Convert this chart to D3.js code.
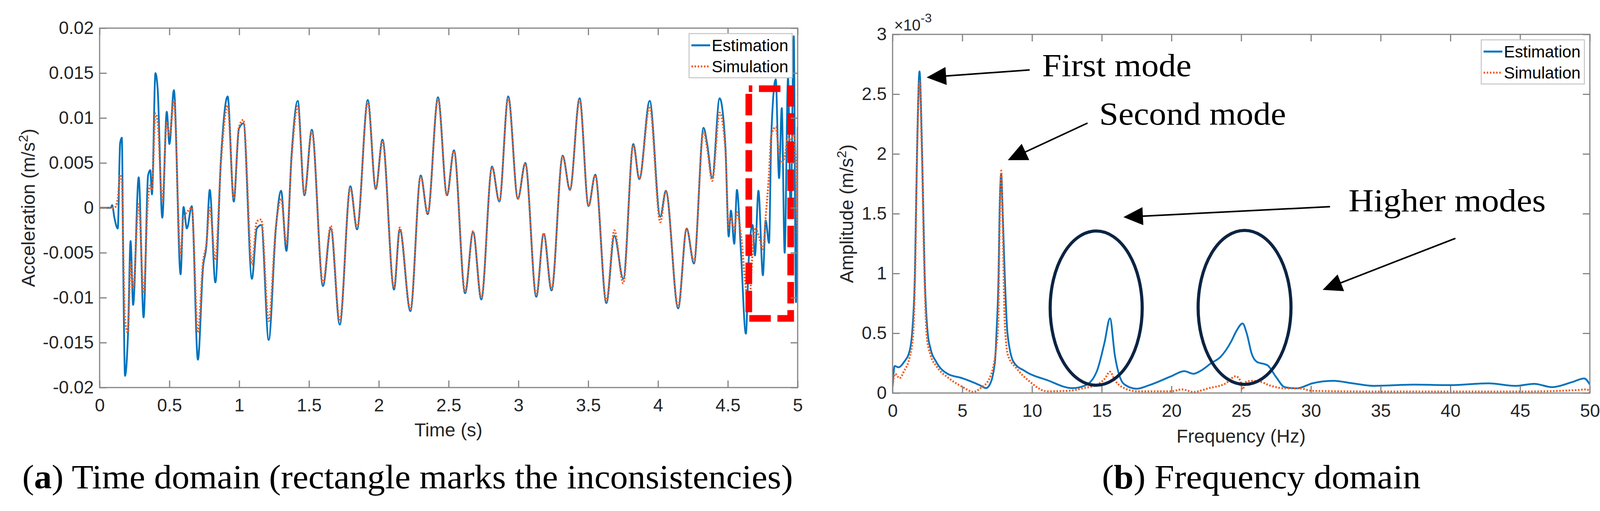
<!DOCTYPE html>
<html>
<head>
<meta charset="utf-8">
<script src="https://cdn.jsdelivr.net/npm/d3@7"></script>
<style>
body { margin: 0; background: #fff; }
</style>
</head>
<body>
<svg id="fig" width="4122" height="1308"></svg>
<script>

// ** Time domain: acceleration
var timeS = [
  0, 0.08, 0.09, 0.106, 0.13, 0.147, 0.159, 0.171, 0.182, 0.203,
  0.222, 0.24, 0.28, 0.315, 0.347, 0.363, 0.375, 0.40, 0.416, 0.449,
  0.481, 0.50, 0.532, 0.58, 0.601, 0.625, 0.66, 0.704, 0.741, 0.765,
  0.789, 0.829, 0.869, 0.917, 0.961, 0.998, 1.03, 1.091, 1.126, 1.158,
  1.211, 1.263, 1.30, 1.338, 1.375, 1.419, 1.467, 1.52, 1.60, 1.656,
  1.72, 1.796, 1.844, 1.921, 1.978, 2.026, 2.109, 2.15, 2.226, 2.30,
  2.35, 2.424, 2.488, 2.538, 2.618, 2.675, 2.734, 2.811, 2.863, 2.927,
  2.996, 3.049, 3.128, 3.181, 3.237, 3.317, 3.369, 3.438, 3.502, 3.55,
  3.63, 3.687, 3.751, 3.823, 3.866, 3.94, 4.016, 4.056, 4.144, 4.205,
  4.257, 4.326, 4.353, 4.388, 4.441, 4.482, 4.506, 4.522, 4.546, 4.565,
  4.594, 4.629, 4.65, 4.677, 4.694, 4.719, 4.751, 4.771, 4.795, 4.811,
  4.843, 4.867, 4.886, 4.907, 4.931, 4.95, 4.972, 4.988, 5.0
];
var estAcc = [
  0, 0, 0.0003, -0.0011, -0.0023, 0.0072, 0.0078, -0.0089, -0.0187, -0.0142,
  -0.0037, -0.0108, 0.0034, -0.0122, 0.0036, 0.0042, 0.0015, 0.0150, 0.0132, -0.0011,
  0.0107, 0.0071, 0.0131, -0.0074, 0.0001, -0.0023, 0.0002, -0.0169, -0.0066, -0.0042,
  0.0020, -0.0083, 0.0054, 0.0124, 0.0007, 0.0088, 0.0094, -0.0079, -0.0023, -0.0019,
  -0.0147, -0.0022, 0.0019, -0.0048, 0.0059, 0.0119, 0.0014, 0.0087, -0.0087, -0.0023,
  -0.0130, 0.0024, -0.0024, 0.0120, 0.0021, 0.0076, -0.0091, -0.0024, -0.0115, 0.0036,
  -0.0007, 0.0123, 0.0014, 0.0064, -0.0095, -0.0027, -0.0102, 0.0046, 0.0007, 0.0124,
  0.0010, 0.0050, -0.0099, -0.0029, -0.0092, 0.0058, 0.0020, 0.0122, 0.0002, 0.0037,
  -0.0106, -0.0031, -0.0079, 0.0071, 0.0032, 0.0119, -0.0010, 0.0019, -0.0112, -0.0023,
  -0.0062, 0.0089, 0.0070, 0.0033, 0.0122, 0.0070, -0.0032, -0.0003, -0.0040, 0.0020,
  -0.0050, -0.0140, -0.0056, -0.0019, -0.0053, 0.0019, -0.0075, -0.0014, -0.0039, 0.0080,
  0.0143, 0.0033, 0.0111, -0.0050, 0.0145, -0.0009, 0.0191, -0.0105, 0.0090
];
var simAcc = [
  0, 0, 0, 0, 0.0010, 0.0037, 0.0030, -0.0060, -0.0125, -0.0139,
  -0.0060, -0.0090, 0.0004, -0.0095, 0.0010, 0.0025, 0.0020, 0.0105, 0.0095, 0.0007,
  0.0095, 0.0080, 0.0119, -0.0053, -0.0010, -0.0005, 0.0000, -0.0139, -0.0060, -0.0040,
  0.0000, -0.0058, 0.0050, 0.0114, 0.0010, 0.0090, 0.0098, -0.0063, -0.0015, -0.0013,
  -0.0126, -0.0020, 0.0010, -0.0040, 0.0055, 0.0113, 0.0016, 0.0085, -0.0084, -0.0020,
  -0.0126, 0.0022, -0.0022, 0.0117, 0.0021, 0.0074, -0.0089, -0.0022, -0.0113, 0.0035,
  -0.0006, 0.0121, 0.0014, 0.0063, -0.0093, -0.0026, -0.0100, 0.0045, 0.0007, 0.0122,
  0.0010, 0.0049, -0.0097, -0.0028, -0.0090, 0.0057, 0.0020, 0.0120, 0.0002, 0.0036,
  -0.0104, -0.0025, -0.0084, 0.0070, 0.0032, 0.0113, -0.0016, 0.0019, -0.0110, -0.0023,
  -0.0060, 0.0085, 0.0065, 0.0030, 0.0106, 0.0065, -0.0022, -0.0010, -0.0025, -0.0005,
  -0.0030, -0.0090, -0.0113, -0.0050, -0.0022, -0.0030, -0.0046, -0.0010, 0.0038, 0.0081,
  0.0090, 0.0060, 0.0050, 0.0057, 0.0079, 0.0075, 0.0083, 0.0040, -0.0029
];

// ** Frequency domain: amplitude in units of 1e-3 m/s^2, panel (b)
var estFreq = [0, 0.15, 0.42, 0.82, 1.23, 1.4, 1.6, 1.75, 1.93, 2.12, 2.3, 2.52, 2.73, 3.14, 3.94, 5.0,
  6.3, 6.7, 6.93, 7.34, 7.45, 7.6, 7.67, 7.79, 7.9, 8.04, 8.24, 8.68, 9.5, 11.1, 12.88, 13.8,
  14.65, 15.2, 15.59, 15.94, 16.6, 17.5, 18.35, 19.96, 20.92, 21.57, 22.05, 22.85, 23.5, 24.29,
  24.65, 25.1, 25.4, 25.76, 26.1, 26.9, 27.5, 28.12, 29.0, 30.1, 31.6, 33.0, 34.5, 37.4, 40.0,
  42.7, 44.7, 46.0, 47.3, 48.7, 49.6, 50.0];
var estAmp = [0.05, 0.226, 0.215, 0.259, 0.357, 0.50, 1.00, 2.00, 2.69, 2.00, 1.00, 0.50, 0.368, 0.259, 0.161, 0.124,
  0.063, 0.041, 0.063, 0.259, 0.50, 1.00, 1.50, 1.83, 1.50, 1.00, 0.50, 0.259, 0.183, 0.107, 0.041, 0.063,
  0.183, 0.423, 0.624, 0.314, 0.074, 0.036, 0.063, 0.139, 0.183, 0.161, 0.183, 0.250, 0.300, 0.433,
  0.518, 0.582, 0.497, 0.326, 0.263, 0.231, 0.134, 0.049, 0.039, 0.081, 0.102, 0.081, 0.060, 0.070, 0.066,
  0.081, 0.060, 0.077, 0.049, 0.090, 0.122, 0.070];
var simFreq = [0, 0.18, 0.5, 0.82, 1.23, 1.47, 1.62, 1.76, 1.93, 2.1, 2.28, 2.45, 2.73, 3.14, 4.1, 5.0,
  5.8, 6.3, 6.93, 7.42, 7.58, 7.68, 7.79, 7.9, 8.04, 8.28, 8.9, 9.83, 11.1, 12.7, 13.69, 14.65,
  15.2, 15.59, 15.94, 16.6, 17.55, 19.96, 20.76, 21.57, 22.7, 23.9, 24.6, 24.95, 25.1, 25.3,
  25.76, 26.5, 26.9, 27.5, 28.12, 29.2, 30.1, 35, 40, 45, 49.1, 49.8, 50];
var simAmp = [0.063, 0.161, 0.124, 0.183, 0.303, 0.478, 1.00, 2.00, 2.61, 2.00, 1.00, 0.478, 0.314, 0.226, 0.118, 0.052,
  0.009, 0.041, 0.118, 0.368, 0.60, 1.40, 1.86, 1.40, 0.60, 0.314, 0.205, 0.096, 0.014, 0.019, 0.041, 0.069,
  0.118, 0.178, 0.107, 0.041, 0.014, 0.014, 0.030, 0.009, 0.041, 0.081, 0.140, 0.100, 0.030, 0.090,
  0.102, 0.090, 0.070, 0.049, 0.039, 0.039, 0.018, 0.012, 0.012, 0.012, 0.025, 0.030, 0.005];

// ** Axis ticks and labels
var timeTicks = [0, 0.5, 1, 1.5, 2, 2.5, 3, 3.5, 4, 4.5, 5];
var timeTickLabels = ["0", "0.5", "1", "1.5", "2", "2.5", "3", "3.5", "4", "4.5", "5"];
var accTicks = [-0.02, -0.015, -0.01, -0.005, 0, 0.005, 0.01, 0.015, 0.02];
var accTickLabels = ["-0.02", "-0.015", "-0.01", "-0.005", "0", "0.005", "0.01", "0.015", "0.02"];
var freqTicks = [0, 5, 10, 15, 20, 25, 30, 35, 40, 45, 50];
var freqTickLabels = ["0", "5", "10", "15", "20", "25", "30", "35", "40", "45", "50"];
var ampTicks = [0, 0.5, 1, 1.5, 2, 2.5, 3];
var ampTickLabels = ["0", "0.5", "1", "1.5", "2", "2.5", "3"];
var seriesNames = ["Estimation", "Simulation"];


var svg = d3.select("#fig");
var blue = "#0072BD", orange = "#F25C1E", axisGrey = "#858585", labelGrey = "#262626";
var sans = "'Liberation Sans', Arial, Helvetica, sans-serif";
var serif = "'Liberation Serif', 'Times New Roman', serif";

svg.append("rect").attr("width", 4122).attr("height", 1308).attr("fill", "#fff");

var xT = d3.scaleLinear().domain([0, 5]).range([255, 2042]);
var yT = d3.scaleLinear().domain([-0.02, 0.02]).range([992, 72]);
var xF = d3.scaleLinear().domain([0, 50]).range([2285, 4070]);
var yF = d3.scaleLinear().domain([0, 3]).range([1006, 88]);


function drawFrame(x, y, xTicks, xLabels, yTicks, yLabels) {
  var x0 = x.range()[0], x1 = x.range()[1], y0 = y.range()[1], y1 = y.range()[0];
  var g = svg.append("g");
  g.append("g").attr("transform", "translate(0," + y1 + ")")
    .call(d3.axisBottom(x).tickValues(xTicks).tickFormat(function(d, i) { return xLabels[i]; })
      .tickSize(-18).tickPadding(28));
  g.append("g").attr("transform", "translate(0," + y0 + ")")
    .call(d3.axisTop(x).tickValues(xTicks).tickFormat("").tickSize(-18));
  g.append("g").attr("transform", "translate(" + x0 + ",0)")
    .call(d3.axisLeft(y).tickValues(yTicks).tickFormat(function(d, i) { return yLabels[i]; })
      .tickSize(-18).tickPadding(15));
  g.append("g").attr("transform", "translate(" + x1 + ",0)")
    .call(d3.axisRight(y).tickValues(yTicks).tickFormat("").tickSize(-18));
  g.selectAll(".domain").remove();
  g.selectAll(".tick line").attr("stroke", axisGrey).attr("stroke-width", 3);
  g.selectAll(".tick text").attr("fill", labelGrey).attr("font-size", 46).attr("font-family", sans);
  g.append("rect")
    .attr("x", x0).attr("y", y0)
    .attr("width", x1 - x0).attr("height", y1 - y0)
    .attr("fill", "none").attr("stroke", axisGrey).attr("stroke-width", 3);
}

function drawLegend(lx, ly) {
  var lg = svg.append("g").attr("transform", "translate(" + lx + "," + ly + ")");
  lg.append("rect").attr("width", 264).attr("height", 113)
    .attr("fill", "#fff").attr("stroke", "#c4c4c4").attr("stroke-width", 2.5);
  seriesNames.forEach(function(name, i) {
    var yy = 30 + i * 54;
    lg.append("line").attr("x1", 6).attr("x2", 54).attr("y1", yy).attr("y2", yy)
      .attr("stroke", i == 0 ? blue : orange).attr("stroke-width", 5)
      .attr("stroke-dasharray", i == 0 ? null : "4,4");
    lg.append("text").attr("x", 58).attr("y", yy + 15)
      .attr("font-family", sans).attr("font-size", 42).attr("fill", "#000")
      .text(name);
  });
}

function addClip(id, x, y) {
  svg.append("clipPath").attr("id", id).append("rect")
    .attr("x", x.range()[0]).attr("y", y.range()[1])
    .attr("width", x.range()[1] - x.range()[0]).attr("height", y.range()[0] - y.range()[1]);
}


/***************************************************************************
                              (a) TIME DOMAIN
***************************************************************************/
addClip("clipT", xT, yT);
var timeData = timeS.map(function(t, i) { return {t: t, est: estAcc[i], sim: simAcc[i]}; });

var gT = svg.append("g").attr("clip-path", "url(#clipT)");
gT.append("path").datum(timeData)
  .attr("fill", "none").attr("stroke", blue).attr("stroke-width", 4.5)
  .attr("d", d3.line().curve(d3.curveMonotoneX)
    .x(function(d) { return xT(d.t); }).y(function(d) { return yT(d.est); }));
gT.append("path").datum(timeData)
  .attr("fill", "none").attr("stroke", orange).attr("stroke-width", 5).attr("stroke-dasharray", "4,4")
  .attr("d", d3.line().curve(d3.curveMonotoneX)
    .x(function(d) { return xT(d.t); }).y(function(d) { return yT(d.sim); }));

// red dashed rectangle marking the inconsistencies
var box = {t0: 4.65, t1: 4.95, v0: 0.01326, v1: -0.0123};
var bx0 = xT(box.t0), bx1 = xT(box.t1), by0 = yT(box.v0), by1 = yT(box.v1);
svg.append("path")
  .attr("d", "M" + bx0 + "," + by0 + "H" + bx1 + "V" + by1 + "H" + bx0 + "Z")
  .attr("fill", "none").attr("stroke", "#ff0000").attr("stroke-width", 17)
  .attr("stroke-dasharray", "55,17").attr("stroke-dashoffset", 46);

drawFrame(xT, yT, timeTicks, timeTickLabels, accTicks, accTickLabels);
drawLegend(1764, 86);

svg.append("text").attr("x", 1148).attr("y", 1117)
  .attr("text-anchor", "middle").attr("font-family", sans).attr("font-size", 48).attr("fill", labelGrey)
  .text("Time (s)");
var accTitle = svg.append("text").attr("transform", "translate(89,532) rotate(-90)")
  .attr("text-anchor", "middle").attr("font-family", sans).attr("font-size", 48).attr("fill", labelGrey);
accTitle.append("tspan").text("Acceleration (m/s");
accTitle.append("tspan").attr("dy", -18).attr("font-size", 34).text("2");
accTitle.append("tspan").attr("dy", 18).text(")");


/***************************************************************************
                            (b) FREQUENCY DOMAIN
***************************************************************************/
addClip("clipF", xF, yF);
var estSpec = estFreq.map(function(f, i) { return {f: f, a: estAmp[i]}; });
var simSpec = simFreq.map(function(f, i) { return {f: f, a: simAmp[i]}; });
var specLine = d3.line().curve(d3.curveMonotoneX)
  .x(function(d) { return xF(d.f); }).y(function(d) { return yF(d.a); });

var gF = svg.append("g").attr("clip-path", "url(#clipF)");
gF.append("path").datum(estSpec)
  .attr("fill", "none").attr("stroke", blue).attr("stroke-width", 4.5).attr("d", specLine);
gF.append("path").datum(simSpec)
  .attr("fill", "none").attr("stroke", orange).attr("stroke-width", 5)
  .attr("stroke-dasharray", "4,4").attr("d", specLine);

drawFrame(xF, yF, freqTicks, freqTickLabels, ampTicks, ampTickLabels);
drawLegend(3792, 102);

// exponent label
var expo = svg.append("text").attr("x", 2289).attr("y", 78)
  .attr("font-family", sans).attr("font-size", 40).attr("fill", labelGrey);
expo.append("tspan").text("\u00d710");
expo.append("tspan").attr("dy", -21).attr("font-size", 32).text("-3");

svg.append("text").attr("x", 3177).attr("y", 1133)
  .attr("text-anchor", "middle").attr("font-family", sans).attr("font-size", 48).attr("fill", labelGrey)
  .text("Frequency (Hz)");
var ampTitle = svg.append("text").attr("transform", "translate(2184,547) rotate(-90)")
  .attr("text-anchor", "middle").attr("font-family", sans).attr("font-size", 48).attr("fill", labelGrey);
ampTitle.append("tspan").text("Amplitude (m/s");
ampTitle.append("tspan").attr("dy", -18).attr("font-size", 34).text("2");
ampTitle.append("tspan").attr("dy", 18).text(")");

// ellipses around the higher modes (data units: Hz, 1e-3 m/s^2)
var rings = [{f: 14.6, a: 0.71, rf: 3.3, ra: 0.645}, {f: 25.24, a: 0.716, rf: 3.33, ra: 0.644}];
svg.selectAll(".ring").data(rings).enter().append("ellipse")
  .attr("cx", function(d) { return xF(d.f); })
  .attr("cy", function(d) { return yF(d.a); })
  .attr("rx", function(d) { return xF(d.f + d.rf) - xF(d.f); })
  .attr("ry", function(d) { return yF(d.a - d.ra) - yF(d.a); })
  .attr("fill", "none").attr("stroke", "#0c2443").attr("stroke-width", 8);

// arrows: [from, tip] in data units
var arrows = [
  [[9.83, 2.703], [2.44, 2.64]],
  [[13.98, 2.258], [8.26, 1.948]],
  [[31.37, 1.559], [16.55, 1.471]],
  [[40.36, 1.294], [30.84, 0.863]]
];
arrows.forEach(function(a) {
  var x0 = xF(a[0][0]), y0 = yF(a[0][1]), x1 = xF(a[1][0]), y1 = yF(a[1][1]);
  var dx = x1 - x0, dy = y1 - y0, len = Math.sqrt(dx * dx + dy * dy);
  var ux = dx / len, uy = dy / len, hl = 50, hw = 23;
  var bx = x1 - ux * hl, by = y1 - uy * hl;
  svg.append("line").attr("x1", x0).attr("y1", y0).attr("x2", bx + ux * 4).attr("y2", by + uy * 4)
    .attr("stroke", "#000").attr("stroke-width", 4);
  svg.append("path")
    .attr("d", "M" + x1 + "," + y1 + "L" + (bx - uy * hw) + "," + (by + ux * hw) +
      "L" + (bx + uy * hw) + "," + (by - ux * hw) + "Z")
    .attr("fill", "#000");
});

var modeNotes = [
  {text: "First mode", f: 10.73, a: 2.65, w: 382},
  {text: "Second mode", f: 14.82, a: 2.245, w: 478},
  {text: "Higher modes", f: 32.69, a: 1.52, w: 505}
];
svg.selectAll(".note").data(modeNotes).enter().append("text")
  .attr("x", function(d) { return xF(d.f); })
  .attr("y", function(d) { return yF(d.a); })
  .attr("textLength", function(d) { return d.w; })
  .attr("lengthAdjust", "spacingAndGlyphs")
  .attr("font-family", serif).attr("font-size", 82).attr("fill", "#000")
  .text(function(d) { return d.text; });


// ** captions
var capA = svg.append("text").attr("x", 57).attr("y", 1250)
  .attr("textLength", 1973).attr("lengthAdjust", "spacingAndGlyphs")
  .attr("font-family", serif).attr("font-size", 86).attr("fill", "#000");
capA.append("tspan").text("(");
capA.append("tspan").attr("font-weight", "bold").text("a");
capA.append("tspan").text(") Time domain (rectangle marks the inconsistencies)");

var capB = svg.append("text").attr("x", 2821).attr("y", 1250)
  .attr("textLength", 816).attr("lengthAdjust", "spacingAndGlyphs")
  .attr("font-family", serif).attr("font-size", 86).attr("fill", "#000");
capB.append("tspan").text("(");
capB.append("tspan").attr("font-weight", "bold").text("b");
capB.append("tspan").text(") Frequency domain");

</script>
</body>
</html>
